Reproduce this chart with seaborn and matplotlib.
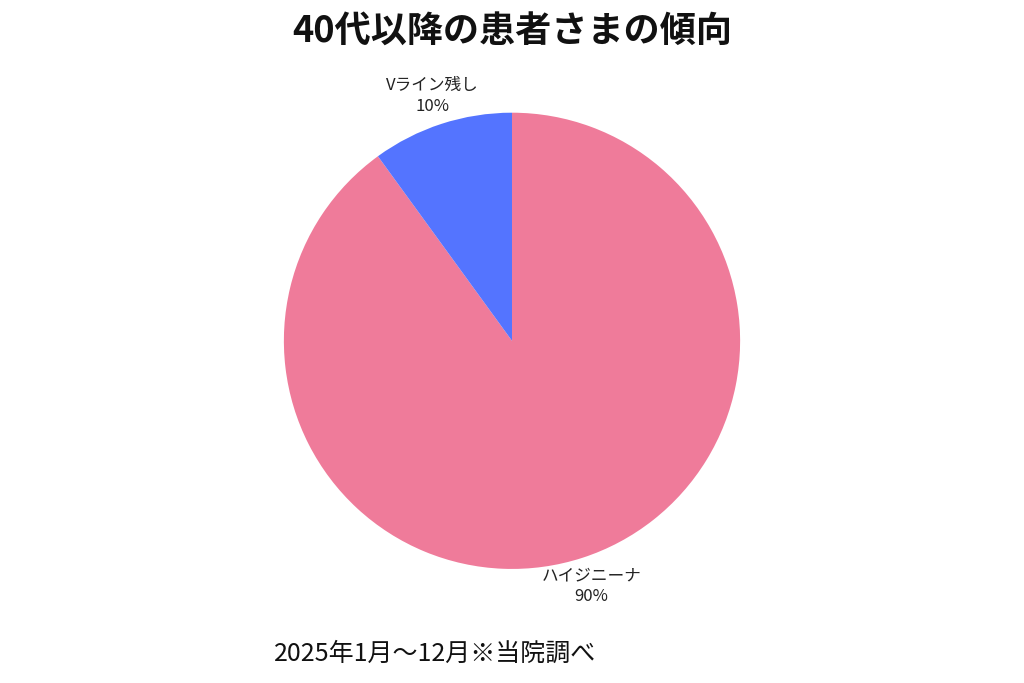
import matplotlib
matplotlib.use("Agg")
import matplotlib.pyplot as plt
import seaborn as sns

sns.set_theme(style="white")
plt.rcParams['font.family'] = ['Noto Sans CJK JP', 'DejaVu Sans']

labels = ["ハイジニーナ", "Vライン残し"]
values = [90, 10]
colors = ["#EF7B9A", "#5474FF"]

fig = plt.figure(figsize=(10.24, 6.83), dpi=100)
ax = fig.add_axes([0.5 - 0.668 * 683 / 1024 / 2, 0.167, 0.668 * 683 / 1024, 0.668])
texts = [f"{l}\n{v}%" for l, v in zip(labels, values)]
wedges, lts = ax.pie(values, labels=texts, colors=colors, startangle=90,
                     counterclock=False, labeldistance=1.13,
                     wedgeprops=dict(linewidth=0),
                     textprops=dict(fontsize=12, color="#222222"))
for t in lts:
    t.set_ha("center")
    t.set_linespacing(1.3)
ax.set_xlim(-1, 1)
ax.set_ylim(-1, 1)
ax.set_aspect("equal")

fig.text(0.5, 0.953, "40代以降の患者さまの傾向", ha="center", va="center",
         fontsize=26, fontweight="bold", color="#111111")
fig.text(0.268, 0.043, "2025年1月〜12月※当院調べ", ha="left", va="center",
         fontsize=18, color="#111111")
fig.savefig("out.png", dpi=100)
